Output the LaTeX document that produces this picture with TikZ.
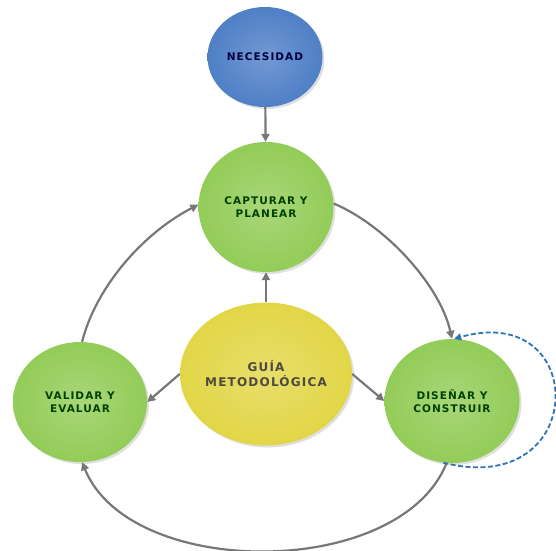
\documentclass[tikz,border=0pt]{standalone}
\usepackage{fontspec}
\newfontfamily\blobfont{DejaVu Sans}[LetterSpace=10]
\usetikzlibrary{shapes.geometric, arrows.meta, shadows}

\definecolor{necblue}{HTML}{4F7FC6}
\definecolor{fasegreen}{HTML}{93CC58}
\definecolor{guiayellow}{HTML}{E2D647}
\definecolor{flechagris}{HTML}{777777}
\definecolor{lazoazul}{HTML}{2E74B5}

\tikzset{
    blob/.style = {ellipse, inner sep=0pt, align=center,
        shading=radial, inner color=#1!80!white, outer color=#1,
        drop shadow={opacity=0.25, shadow xshift=2pt, shadow yshift=-2pt},
        font=\blobfont\bfseries\fontsize{10.5}{13}\selectfont},
    flecha/.style = {draw=flechagris, line width=2.2pt,
        -{Triangle[length=8pt, width=8pt]}},
    lazo/.style = {draw=lazoazul, line width=1.8pt, dash pattern=on 5pt off 2.5pt,
        -{Triangle[length=7pt, width=7pt]}}
}

\begin{document}
\begin{tikzpicture}[x=1pt, y=-1pt]
    \useasboundingbox (0, 0) rectangle (556, 550);
    % nodos
    \node [blob=necblue, minimum width=115, minimum height=100,
        text=blue!25!black] (nec) at (265, 57) {NECESIDAD};
    \node [blob=fasegreen, minimum width=135, minimum height=130,
        text=green!25!black] (cap) at (266, 207) {CAPTURAR Y\\PLANEAR};
    \node [blob=guiayellow, minimum width=162, minimum height=143,
        text=black!80!yellow,
        font=\blobfont\bfseries\fontsize{12}{15}\selectfont]
        (guia) at (266, 374) {GUÍA\\METODOLÓGICA};
    \node [blob=fasegreen, minimum width=134, minimum height=120,
        text=green!25!black] (val) at (80, 402) {VALIDAR Y\\EVALUAR};
    \node [blob=fasegreen, minimum width=135, minimum height=124,
        text=green!25!black] (dis) at (452, 401) {DISEÑAR Y\\CONSTRUIR};
    % flechas
    \draw [flecha] (nec) -- (cap);
    \draw [flecha] (guia) -- (cap);
    \draw [flecha] (guia.west) -- (val.east);
    \draw [flecha] (guia.east) -- (dis.west);
    \draw [flecha] (cap.3) .. controls (385, 225) and (440, 285) .. (dis.north);
    \draw [flecha] (dis.-95) .. controls (400, 580) and (130, 580) .. (val.-88);
    \draw [flecha] (val.88) .. controls (95, 290) and (140, 235) .. (cap.178);
    % lazo
    \draw [lazo] (dis.-98) .. controls (590, 500) and (590, 300) .. (dis.88);
\end{tikzpicture}
\end{document}
